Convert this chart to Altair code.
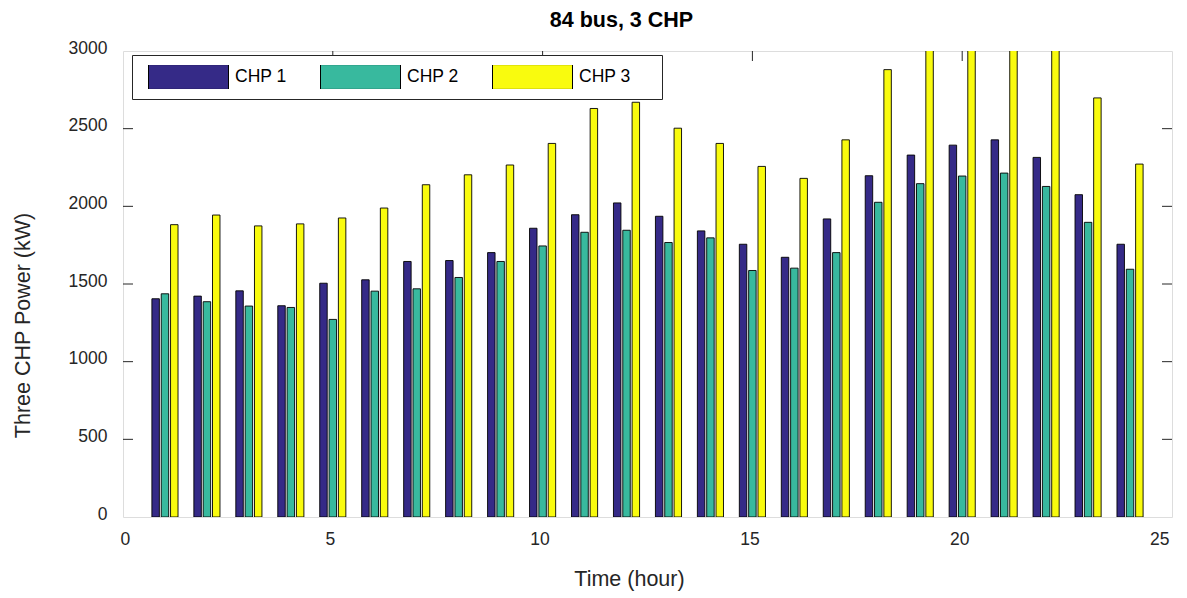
import altair as alt
import pandas as pd

hours = list(range(1, 25))
chp1 = [1405, 1422, 1456, 1360, 1505, 1527, 1645, 1651, 1702, 1859, 1946, 2022,
        1936, 1842, 1756, 1672, 1919, 2197, 2330, 2394, 2428, 2315, 2075, 1756]
chp2 = [1437, 1386, 1358, 1349, 1272, 1454, 1469, 1542, 1645, 1745, 1833, 1846,
        1767, 1797, 1587, 1602, 1702, 2026, 2146, 2195, 2214, 2128, 1897, 1595]
chp3 = [1882, 1944, 1874, 1887, 1925, 1989, 2139, 2203, 2266, 2405, 2630, 2670,
        2503, 2405, 2257, 2180, 2428, 2880, 3150, 3250, 3300, 3200, 2698, 2272]
series_names = ["CHP 1", "CHP 2", "CHP 3"]
series_colors = ["#352a87", "#38b99e", "#f9fb0e"]
x_ticks = [5, 10, 15, 20]
y_ticks = [500, 1000, 1500, 2000, 2500]

rows = []
for si, (name, vals) in enumerate(zip(series_names, [chp1, chp2, chp3])):
    for h, v in zip(hours, vals):
        rows.append({"hour": h, "series": name, "idx": si, "value": v})
df = pd.DataFrame(rows)

W, H = 1049, 466
FONT = "Liberation Sans"
INK = "#262626"
LFS = 17.5
TFS = 21.5

xs = alt.Scale(domain=[0, 25], nice=False, zero=False)
ys = alt.Scale(domain=[0, 3000], nice=False)

xaxis = alt.Axis(values=[0, 5, 10, 15, 20, 25], format="d", ticks=False, domain=False, grid=False,
                 labelPadding=13, labelFontSize=LFS, labelColor=INK, labelFont=FONT,
                 labelOffset=-3,
                 title="Time (hour)", titleFontSize=TFS, titleFontWeight="normal",
                 titleColor=INK, titleFont=FONT, titlePadding=21, titleX=506)
yaxis = alt.Axis(values=[0, 500, 1000, 1500, 2000, 2500, 3000], format="d", ticks=False, domain=False,
                 grid=False, labelPadding=16, labelFontSize=LFS, labelColor=INK, labelFont=FONT,
                 labelOffset=-3,
                 title="Three CHP Power (kW)", titleFontSize=TFS, titleFontWeight="normal",
                 titleColor=INK, titleFont=FONT, titlePadding=34, titleY=274)

bar_w = 0.178
bars = alt.Chart(df).transform_calculate(
    x0=f"datum.hour + (datum.idx - 1) * 0.2222 - {bar_w / 2}",
    x1=f"datum.hour + (datum.idx - 1) * 0.2222 + {bar_w / 2}",
).mark_bar(stroke="black", strokeWidth=0.9, clip=True).encode(
    x=alt.X("x0:Q", scale=xs, axis=xaxis),
    x2="x1:Q",
    y=alt.Y("value:Q", scale=ys, axis=yaxis),
    y2=alt.datum(0),
    fill=alt.Fill("series:N", scale=alt.Scale(domain=series_names, range=series_colors),
                  legend=alt.Legend(
                      orient="none", legendX=9, legendY=4, direction="horizontal",
                      title=".", titleOrient="right", titleColor="white", titleFontSize=12,
                      titlePadding=17,
                      symbolType="M-1,-0.31H1V0.31H-1Z", symbolSize=6400,
                      symbolStrokeColor="black", symbolStrokeWidth=1, symbolOpacity=1,
                      clipHeight=24, labelFontSize=LFS, labelFont=FONT, labelColor="black",
                      labelOffset=6, columnPadding=27, padding=10, symbolOffset=6,
                      strokeColor=INK, fillColor="white")),
)

ydf = pd.DataFrame({"v": y_ticks})
xdf = pd.DataFrame({"v": x_ticks})
tl = 10
left_t = alt.Chart(ydf).mark_rule(color=INK, strokeWidth=1).encode(
    y=alt.Y("v:Q", scale=ys, axis=yaxis), x=alt.value(0), x2=alt.value(tl))
right_t = alt.Chart(ydf).mark_rule(color=INK, strokeWidth=1).encode(
    y=alt.Y("v:Q", scale=ys, axis=yaxis), x=alt.value(W - tl), x2=alt.value(W))
top_t = alt.Chart(xdf).mark_rule(color=INK, strokeWidth=1).encode(
    x=alt.X("v:Q", scale=xs, axis=xaxis), y=alt.value(0), y2=alt.value(tl))
bot_t = alt.Chart(xdf).mark_rule(color=INK, strokeWidth=1).encode(
    x=alt.X("v:Q", scale=xs, axis=xaxis), y=alt.value(H - tl), y2=alt.value(H))

chart = alt.layer(left_t, right_t, top_t, bot_t, bars).properties(
    width=W, height=H,
    title=alt.Title("84 bus, 3 CHP", fontSize=TFS, fontWeight="bold", font=FONT,
                    color="black", anchor="middle", offset=8, dx=-26),
    padding={"left": 123, "top": 51, "right": 15, "bottom": 81},
    autosize=alt.AutoSizeParams(type="none"),
).configure_view(stroke=INK, strokeWidth=1).configure(background="white")

chart.save("out.html", embed_options={"renderer": "svg", "actions": False})
